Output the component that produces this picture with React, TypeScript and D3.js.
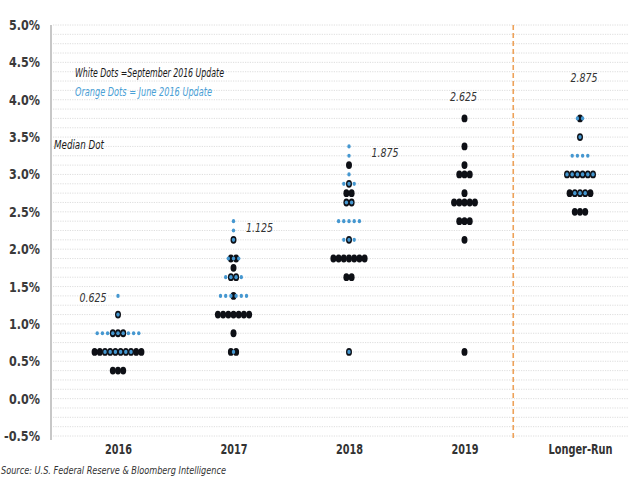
import React, { useEffect, useRef } from "react";
import * as d3 from "d3";

const categories = ["2016", "2017", "2018", "2019", "Longer-Run"];
const medianLabels = ["0.625", "1.125", "1.875", "2.625", "2.875"];
const yTicks = [-0.5, 0, 0.5, 1, 1.5, 2, 2.5, 3, 3.5, 4, 4.5, 5];

// [category, rate, number of participants] - September 2016 update (dark dots)
const septDots: [string, number, number][] = [
  ["2016", 0.375, 3], ["2016", 0.625, 10], ["2016", 0.875, 3], ["2016", 1.125, 1],
  ["2017", 0.625, 2], ["2017", 0.875, 1], ["2017", 1.125, 7], ["2017", 1.375, 1],
  ["2017", 1.625, 2], ["2017", 1.75, 1], ["2017", 1.875, 2], ["2017", 2.125, 1],
  ["2018", 0.625, 1], ["2018", 1.625, 2], ["2018", 1.875, 7], ["2018", 2.125, 1],
  ["2018", 2.625, 2], ["2018", 2.75, 2], ["2018", 2.875, 1], ["2018", 3.125, 1],
  ["2019", 0.625, 1], ["2019", 2.125, 1], ["2019", 2.375, 3], ["2019", 2.625, 5],
  ["2019", 2.75, 1], ["2019", 3.0, 3], ["2019", 3.125, 1], ["2019", 3.375, 1], ["2019", 3.75, 1],
  ["Longer-Run", 2.5, 3], ["Longer-Run", 2.75, 5], ["Longer-Run", 3.0, 6],
  ["Longer-Run", 3.5, 1], ["Longer-Run", 3.75, 1],
];

// June 2016 update (small blue dots)
const juneDots: [string, number, number][] = [
  ["2016", 0.625, 6], ["2016", 0.875, 9], ["2016", 1.125, 1], ["2016", 1.375, 1],
  ["2017", 0.625, 1], ["2017", 1.375, 6], ["2017", 1.625, 4], ["2017", 1.875, 3],
  ["2017", 2.125, 1], ["2017", 2.25, 1], ["2017", 2.375, 1],
  ["2018", 0.625, 1], ["2018", 2.125, 3], ["2018", 2.375, 5], ["2018", 2.625, 2],
  ["2018", 2.875, 3], ["2018", 3.0, 1], ["2018", 3.25, 1], ["2018", 3.375, 1],
  ["Longer-Run", 2.75, 3], ["Longer-Run", 3.0, 6], ["Longer-Run", 3.25, 4],
  ["Longer-Run", 3.5, 1], ["Longer-Run", 3.75, 2],
];

const W = 630;
const H = 490;
const FONT = "'Liberation Sans Narrow', 'DejaVu Sans Condensed', 'Open Sans', sans-serif";

type Dot = { cat: string; rate: number; offset: number };

// spread each row of dots side by side around the category centre
const expand = (rows: [string, number, number][]): Dot[] =>
  rows.flatMap(([cat, rate, n]) =>
    d3.range(n).map((i) => ({ cat, rate, offset: i - (n - 1) / 2 }))
  );

const DotPlot: React.FC = () => {
  const ref = useRef<SVGSVGElement | null>(null);

  useEffect(() => {
    if (!ref.current) return;
    const svg = d3.select(ref.current);
    svg.selectAll("*").remove();

    const left = 51;
    const right = 628;
    const y = d3.scaleLinear().domain([-0.5, 5.0]).range([436, 25]);
    const x = d3.scalePoint<string>().domain(categories).range([118, 580]);
    const step = 5.2;

    // dotted grid every 1/8 point
    svg
      .append("g")
      .selectAll("line")
      .data(d3.range(-0.5, 5.0001, 0.125))
      .join("line")
      .attr("x1", left + 2)
      .attr("x2", right)
      .attr("y1", (d) => y(d))
      .attr("y2", (d) => y(d))
      .attr("stroke", "#d6d6d6")
      .attr("stroke-width", 0.8)
      .attr("stroke-dasharray", "1.2,1.2");

    // y axis
    const yAxis = svg
      .append("g")
      .attr("transform", `translate(${left},0)`)
      .call(
        d3
          .axisLeft(y)
          .tickValues(yTicks)
          .tickSize(0)
          .tickPadding(11)
          .tickFormat((d) => `${(+d).toFixed(1)}%`)
      );
    yAxis.select(".domain").attr("stroke", "#b5b5b5").attr("stroke-width", 1.5).attr("d", `M0,${y(5)}V440`);
    yAxis
      .selectAll("text")
      .attr("font-family", FONT)
      .attr("font-size", 14)
      .attr("font-weight", 600)
      .attr("fill", "#3a3a3a")
      .attr("textLength", (d) => ((d as number) < 0 ? 36 : 31))
      .attr("lengthAdjust", "spacingAndGlyphs");

    // x axis labels
    const xAxis = svg
      .append("g")
      .attr("transform", "translate(0,440)")
      .call(d3.axisBottom(x).tickSize(0).tickPadding(4));
    xAxis.select(".domain").remove();
    xAxis
      .selectAll("text")
      .attr("font-family", FONT)
      .attr("font-size", 14)
      .attr("font-weight", 700)
      .attr("fill", "#333")
      .attr("textLength", (d) => ((d as string).length > 4 ? 64 : 27))
      .attr("lengthAdjust", "spacingAndGlyphs");

    // separator before Longer-Run
    const sepX = ((x("2019") as number) + (x("Longer-Run") as number)) / 2 - 9;
    svg
      .append("line")
      .attr("x1", sepX)
      .attr("x2", sepX)
      .attr("y1", y(5))
      .attr("y2", 440)
      .attr("stroke", "#eda25a")
      .attr("stroke-width", 1.6)
      .attr("stroke-dasharray", "5,3");

    // September dots
    svg
      .append("g")
      .selectAll("ellipse")
      .data(expand(septDots))
      .join("ellipse")
      .attr("cx", (d) => (x(d.cat) as number) + d.offset * step)
      .attr("cy", (d) => y(d.rate))
      .attr("rx", 3.0)
      .attr("ry", 3.9)
      .attr("fill", "#0e1016");

    // June dots on top
    svg
      .append("g")
      .selectAll("ellipse")
      .data(expand(juneDots))
      .join("ellipse")
      .attr("cx", (d) => (x(d.cat) as number) + d.offset * step)
      .attr("cy", (d) => y(d.rate))
      .attr("rx", 1.7)
      .attr("ry", 2.1)
      .attr("fill", "#4597d0");

    // median labels
    const labelPlace = [
      { dx: -25, dy: 302 },
      { dx: 26, dy: 232 },
      { dx: 36, dy: 157 },
      { dx: -1, dy: 101 },
      { dx: 4, dy: 82 },
    ];
    svg
      .append("g")
      .selectAll("text")
      .data(medianLabels)
      .join("text")
      .attr("x", (d, i) => (x(categories[i]) as number) + labelPlace[i].dx)
      .attr("y", (d, i) => labelPlace[i].dy)
      .attr("text-anchor", "middle")
      .attr("font-family", FONT)
      .attr("font-size", 12)
      .attr("font-style", "italic")
      .attr("fill", "#333")
      .attr("textLength", 27)
      .attr("lengthAdjust", "spacingAndGlyphs")
      .text((d) => d);

    // legend notes
    const notes = [
      { t: "White Dots =September 2016 Update", x: 75, y: 77, c: "#1a1a1a", w: 149 },
      { t: "Orange Dots = June 2016 Update", x: 75, y: 96, c: "#4aa0d6", w: 137 },
      { t: "Median Dot", x: 54, y: 149, c: "#1a1a1a", w: 50 },
    ];
    svg
      .append("g")
      .selectAll("text")
      .data(notes)
      .join("text")
      .attr("x", (d) => d.x)
      .attr("y", (d) => d.y)
      .attr("font-family", FONT)
      .attr("font-size", 12)
      .attr("font-style", "italic")
      .attr("fill", (d) => d.c)
      .attr("textLength", (d) => d.w)
      .attr("lengthAdjust", "spacingAndGlyphs")
      .text((d) => d.t);

    svg
      .append("text")
      .attr("x", 1)
      .attr("y", 474)
      .attr("font-family", FONT)
      .attr("font-size", 11)
      .attr("font-style", "italic")
      .attr("fill", "#333")
      .attr("textLength", 225)
      .attr("lengthAdjust", "spacingAndGlyphs")
      .text("Source: U.S. Federal Reserve & Bloomberg Intelligence");
  }, []);

  return (
    <svg
      ref={ref}
      width={W}
      height={H}
      style={{ position: "absolute", left: 0, top: 0, background: "#fff" }}
    />
  );
};

export default function App() {
  return <DotPlot />;
}
